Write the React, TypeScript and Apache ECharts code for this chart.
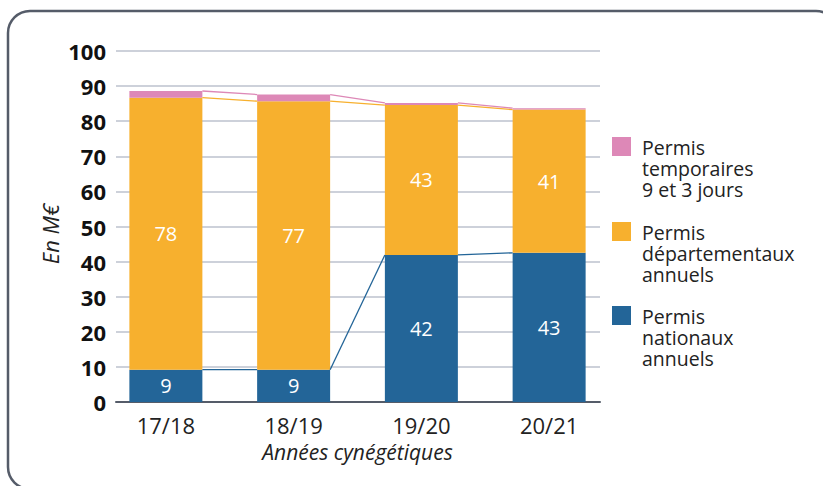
import React, { useEffect, useRef } from "react";
import * as echarts from "echarts";

const categories = ["17/18", "18/19", "19/20", "20/21"];
const nationaux = [9.2, 9.2, 41.9, 42.5];
const departementaux = [77.5, 76.5, 42.7, 40.8];
const temporaires = [1.9, 1.9, 0.6, 0.4];
const yTicks = { min: 0, max: 100, interval: 10 };
const legendItems = [
  { name: "Permis temporaires 9 et 3 jours", lines: ["Permis", "temporaires", "9 et 3 jours"], color: "#DD88B7" },
  { name: "Permis départementaux annuels", lines: ["Permis", "départementaux", "annuels"], color: "#F7B02E" },
  { name: "Permis nationaux annuels", lines: ["Permis", "nationaux", "annuels"], color: "#236598" },
];

const COLORS = { blue: "#236598", orange: "#F7B02E", pink: "#DD88B7" };
const FONT = "'Open Sans', 'Noto Sans', sans-serif";
const BAR_W = 73;

export default function App() {
  const ref = useRef<HTMLDivElement>(null);
  useEffect(() => {
    if (!ref.current) return;
    const chart = echarts.init(ref.current, undefined, { renderer: "svg" });
    const tops = categories.map((_, i) => {
      const b = nationaux[i];
      const o = b + departementaux[i];
      const p = o + temporaires[i];
      return [i, b, o, p];
    });
    const gridTop = 51;
    const gridBottom = 84;
    const legendY = [137, 222, 306];
    const graphic: any[] = [
      {
        type: "rect",
        shape: { x: 8, y: 11, width: 830, height: 478, r: 22 },
        style: { fill: "none", stroke: "#555C69", lineWidth: 2.5 },
        silent: true,
      },
      {
        type: "text",
        x: 50,
        y: 234,
        rotation: Math.PI / 2,
        style: {
          text: "En M€",
          fontFamily: FONT,
          fontStyle: "italic",
          fontSize: 22,
          fill: "#222",
          align: "center",
          verticalAlign: "middle",
        },
      },
    ];
    legendItems.forEach((it, k) => {
      graphic.push({
        type: "rect",
        shape: { x: 612, y: legendY[k], width: 19, height: 19 },
        style: { fill: it.color },
      });
      it.lines.forEach((ln, j) => {
        graphic.push({
          type: "text",
          x: 642,
          y: legendY[k] + 10 + j * 21,
          style: {
            text: ln,
            fontFamily: FONT,
            fontSize: 19.5,
            lineHeight: 20,
            fill: "#222",
            align: "left",
            verticalAlign: "middle",
          },
        });
      });
    });

    const valueLabel = {
      show: true,
      position: "inside",
      color: "#fff",
      fontFamily: FONT,
      fontSize: 20,
      fontWeight: 500,
      formatter: (p: any) => String(Math.round(p.value)),
    };

    const option: any = {
      animation: false,
      backgroundColor: "#fff",
      grid: [
        { left: 116, right: 223, top: gridTop, bottom: gridBottom },
        { left: 102, right: 210, top: gridTop, bottom: gridBottom },
      ],
      xAxis: [
        {
          gridIndex: 0,
          type: "category",
          data: categories,
          axisLine: { show: true, lineStyle: { color: "#555C69", width: 2 } },
          axisTick: { show: false },
          axisLabel: { show: false },
        },
        {
          gridIndex: 1,
          type: "category",
          data: categories,
          axisLine: { show: false },
          axisTick: { show: false },
          axisLabel: { fontFamily: FONT, fontSize: 22, color: "#222", margin: 12 },
          name: "Années cynégétiques",
          nameLocation: "middle",
          nameGap: 39,
          nameTextStyle: { fontFamily: FONT, fontStyle: "italic", fontSize: 21, color: "#222" },
        },
      ],
      yAxis: [
        {
          gridIndex: 0,
          type: "value",
          min: yTicks.min,
          max: yTicks.max,
          interval: yTicks.interval,
          axisLine: { show: false },
          axisTick: { show: false },
          axisLabel: { fontFamily: FONT, fontSize: 22, fontWeight: "bold", color: "#111", margin: 10 },
          splitLine: { lineStyle: { color: "#CDD1DA", width: 2 } },
        },
        {
          gridIndex: 1,
          type: "value",
          min: yTicks.min,
          max: yTicks.max,
          interval: yTicks.interval,
          show: false,
          splitLine: { show: false },
        },
      ],
      series: [
        {
          name: legendItems[2].name,
          type: "bar",
          xAxisIndex: 1,
          yAxisIndex: 1,
          stack: "t",
          barWidth: BAR_W,
          data: nationaux,
          itemStyle: { color: COLORS.blue },
          label: valueLabel,
        },
        {
          name: legendItems[1].name,
          type: "bar",
          xAxisIndex: 1,
          yAxisIndex: 1,
          stack: "t",
          barWidth: BAR_W,
          data: departementaux,
          itemStyle: { color: COLORS.orange },
          label: valueLabel,
        },
        {
          name: legendItems[0].name,
          type: "bar",
          xAxisIndex: 1,
          yAxisIndex: 1,
          stack: "t",
          barWidth: BAR_W,
          data: temporaires,
          itemStyle: { color: COLORS.pink },
        },
        {
          type: "custom",
          xAxisIndex: 1,
          yAxisIndex: 1,
          data: tops,
          silent: true,
          z: 3,
          renderItem: (params: any, api: any) => {
            const i = params.dataIndex;
            if (i >= tops.length - 1) return null;
            const cols = [COLORS.blue, COLORS.orange, COLORS.pink];
            const children = [1, 2, 3].map((k, j) => {
              const p1 = api.coord([i, tops[i][k]]);
              const p2 = api.coord([i + 1, tops[i + 1][k]]);
              return {
                type: "line",
                shape: { x1: p1[0] + BAR_W / 2, y1: p1[1], x2: p2[0] - BAR_W / 2, y2: p2[1] },
                style: { stroke: cols[j], lineWidth: 1.3 },
              };
            });
            return { type: "group", children };
          },
        },
      ],
      graphic,
    };
    chart.setOption(option);
    return () => chart.dispose();
  }, []);
  return <div ref={ref} style={{ width: 823, height: 486, position: "absolute", left: 0, top: 0 }} />;
}
